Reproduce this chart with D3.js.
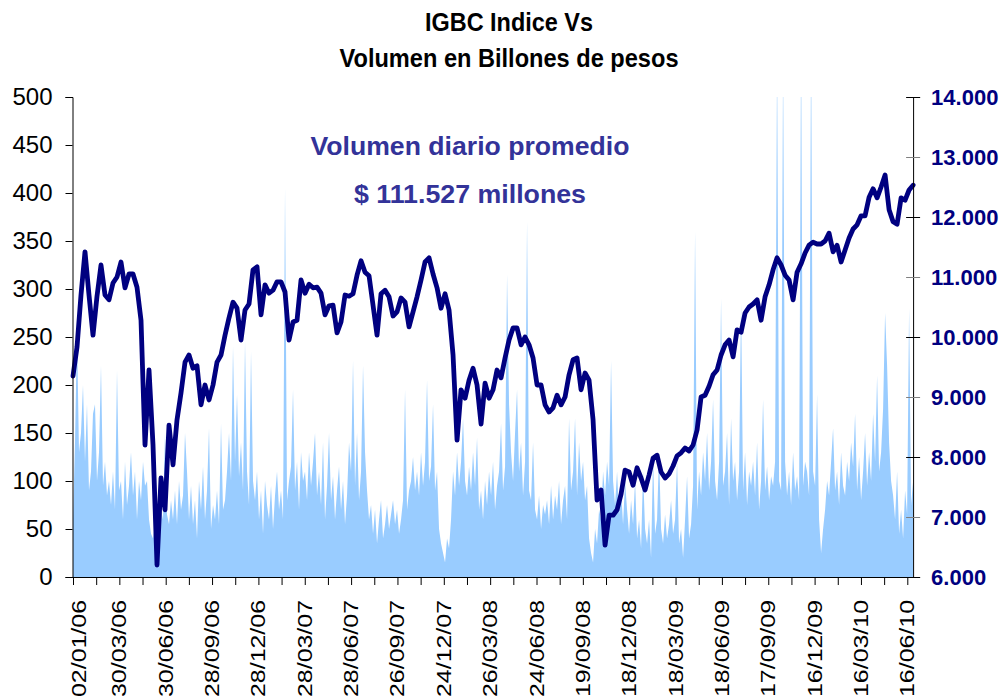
<!DOCTYPE html>
<html>
<head>
<meta charset="utf-8">
<script src="https://cdn.jsdelivr.net/npm/d3@7"></script>
<style>
	body { margin: 0; background: #fff; }
	svg { display: block; font-family: 'Liberation Sans', Arial, sans-serif; }
</style>
</head>
<body>
<svg></svg>
<script>
const w = 1001;
const h = 700;

// fechas del eje x (una etiqueta cada dos marcas)
const fechas = ['02/01/06', '30/03/06', '30/06/06', '28/09/06', '28/12/06', '28/03/07', '28/06/07', '26/09/07', '24/12/07', '26/03/08', '24/06/08', '19/09/08', '18/12/08', '18/03/09', '18/06/09', '17/09/09', '16/12/09', '16/03/10', '16/06/10'];
const ticksIzq = [0, 50, 100, 150, 200, 250, 300, 350, 400, 450, 500];
const ticksDer = [6000, 7000, 8000, 9000, 10000, 11000, 12000, 13000, 14000];

// IGBC, lectura semanal
const igbc = [
	9350, 9830, 10700, 11420, 10700, 10030, 10680, 11200, 10700, 10620,
	10900, 11000, 11250, 10820, 11050, 11050, 10830, 10280, 8200, 9450,
	8200, 6200, 7650, 7120, 8530, 7870, 8620, 9070, 9580, 9700,
	9480, 9520, 8870, 9200, 8950, 9200, 9580, 9700, 10030, 10320,
	10580, 10480, 9950, 10450, 10550, 11120, 11170, 10370, 10870, 10730,
	10780, 10920, 10920, 10750, 9950, 10250, 10280, 10950, 10730, 10880,
	10820, 10830, 10730, 10370, 10520, 10530, 10070, 10250, 10700, 10680,
	10720, 11030, 11270, 11080, 11020, 10530, 10030, 10720, 10780, 10670,
	10350, 10420, 10650, 10580, 10170, 10420, 10670, 10950, 11250, 11320,
	11050, 10820, 10480, 10720, 10450, 9700, 8280, 9120, 8980, 9280,
	9480, 9200, 8550, 9230, 8980, 9120, 9450, 9320, 9650, 9950,
	10150, 10150, 9870, 10000, 9870, 9650, 9200, 9200, 8870, 8750,
	8820, 9030, 8870, 9000, 9370, 9620, 9650, 9120, 9400, 9280,
	8620, 7280, 7450, 6530, 7030, 7030, 7120, 7380, 7780, 7750,
	7530, 7820, 7650, 7450, 7700, 7980, 8030, 7750, 7650, 7720,
	7850, 8020, 8070, 8150, 8100, 8200, 8450, 9000, 9030, 9180,
	9370, 9450, 9700, 9870, 9950, 9670, 10120, 10080, 10400, 10500,
	10550, 10620, 10280, 10670, 10870, 11120, 11320, 11200, 11030, 10950,
	10620, 11080, 11220, 11400, 11530, 11580, 11550, 11550, 11600, 11730,
	11420, 11530, 11250, 11450, 11650, 11800, 11870, 12020, 12020, 12330,
	12470, 12320, 12500, 12700, 12120, 11920, 11880, 12320, 12280, 12450,
	12530
];

// volumen en miles de millones, lectura aproximada
const volumen = [
	60, 140, 255, 130, 150, 200, 120, 180, 90, 110,
	170, 180, 100, 130, 220, 95, 120, 85, 100, 75,
	110, 70, 215, 90, 100, 60, 120, 75, 95, 130,
	85, 110, 60, 100, 80, 120, 95, 100, 60, 45,
	40, 55, 30, 50, 70, 60, 150, 65, 55, 80,
	60, 90, 55, 100, 70, 85, 150, 110, 60, 95,
	55, 80, 40, 100, 70, 115, 60, 90, 155, 50,
	75, 60, 90, 55, 160, 70, 80, 110, 150, 100,
	240, 120, 190, 105, 140, 90, 245, 110, 75, 235,
	100, 80, 110, 60, 90, 45, 100, 75, 60, 95,
	50, 85, 110, 70, 90, 60, 405, 80, 100, 115,
	195, 90, 120, 70, 130, 100, 110, 80, 130, 95,
	120, 150, 85, 110, 75, 140, 60, 95, 150, 80,
	105, 60, 90, 115, 70, 100, 55, 85, 140, 110,
	225, 95, 150, 80, 110, 220, 130, 90, 60, 75,
	45, 70, 35, 60, 80, 40, 55, 75, 50, 65,
	80, 55, 70, 45, 60, 80, 195, 70, 90, 100,
	125, 90, 110, 85, 130, 95, 120, 205, 100, 115,
	180, 90, 110, 50, 35, 25, 15, 40, 30, 60,
	110, 85, 130, 95, 120, 165, 100, 85, 115, 90,
	130, 95, 145, 70, 90, 60, 100, 75, 110, 85,
	120, 70, 95, 110, 160, 90, 115, 315, 180, 130,
	100, 150, 195, 110, 140, 85, 120, 370, 90, 80,
	140, 70, 60, 85, 50, 75, 65, 80, 55, 95,
	60, 85, 70, 100, 55, 80, 95, 60, 165, 90,
	110, 165, 85, 140, 100, 120, 80, 95, 40, 25,
	15, 50, 35, 70, 60, 110, 85, 120, 95, 225,
	100, 75, 110, 65, 90, 55, 100, 70, 45, 80,
	55, 100, 40, 60, 30, 110, 50, 35, 60, 20,
	125, 45, 60, 130, 50, 35, 65, 40, 55, 80,
	45, 60, 120, 35, 50, 20, 60, 105, 40, 55,
	95, 360, 70, 110, 85, 130, 100, 150, 90, 120,
	185, 100, 80, 120, 290, 95, 110, 150, 75, 165,
	100, 120, 80, 110, 285, 90, 130, 75, 110, 95,
	120, 85, 140, 70, 100, 185, 90, 115, 80, 105,
	95, 120, 545, 100, 90, 540, 120, 85, 110, 75,
	130, 90, 105, 80, 560, 95, 120, 110, 85, 560,
	110, 95, 190, 60, 25, 50, 70, 100, 85, 120,
	155, 90, 110, 75, 130, 95, 85, 120, 100, 140,
	115, 170, 90, 125, 80, 110, 150, 95, 130, 100,
	170, 120, 210, 110, 130, 175, 275, 220, 140, 100,
	85, 60, 110, 45, 70, 40, 90, 65, 280, 75,
	100
];

const nTicks = 36; // marcas del eje x (dos por etiqueta)
const fin = 36.25; // el periodo termina un poco despues de la ultima marca

const canvas = d3.select('svg').attr('width', w).attr('height', h);

const xScale = d3.scaleLinear().domain([0, nTicks]).range([73, 907.3]);
const yIzq = d3.scaleLinear().domain([0, 500]).range([577, 97]);
const yDer = d3.scaleLinear().domain([6000, 14000]).range([577, 97]);

const posX = (i, n) => xScale((i / (n - 1)) * fin);

canvas
	.append('clipPath')
	.attr('id', 'plot')
	.append('rect')
	.attr('x', xScale(0))
	.attr('y', yIzq(500))
	.attr('width', xScale(fin) - xScale(0))
	.attr('height', yIzq(0) - yIzq(500));

// area de volumen
const area = d3
	.area()
	.x((d, i) => posX(i, volumen.length))
	.y0(yIzq(0))
	.y1((d) => yIzq(d));

canvas
	.append('path')
	.datum(volumen)
	.attr('clip-path', 'url(#plot)')
	.attr('fill', '#99ccff')
	.attr('d', area);

// linea del indice
const linea = d3
	.line()
	.x((d, i) => posX(i, igbc.length))
	.y((d) => yDer(d));

canvas
	.append('path')
	.datum(igbc)
	.attr('fill', 'none')
	.attr('stroke', '#000080')
	.attr('stroke-width', 4.8)
	.attr('stroke-linejoin', 'round')
	.attr('stroke-linecap', 'round')
	.attr('d', linea);

// eje izquierdo
const yAxisIzq = d3.axisLeft(yIzq).tickValues(ticksIzq).tickSize(7).tickPadding(13);
canvas
	.append('g')
	.attr('transform', `translate(${xScale(0) - 0.5},0)`)
	.call(yAxisIzq)
	.call((g) => g.selectAll('text').attr('font-size', 24).attr('fill', '#000').attr('font-family', 'Liberation Sans, Arial'))
	.call((g) => g.selectAll('path, line').attr('stroke', '#000'));

// eje derecho
const yAxisDer = d3.axisRight(yDer).tickValues(ticksDer).tickSize(7).tickPadding(11).tickFormat((d) => d3.format(',')(d).replace(',', '.'));
canvas
	.append('g')
	.attr('transform', `translate(${xScale(fin)},0)`)
	.call(yAxisDer)
	.call((g) => g.select('.domain').attr('stroke', '#000'))
	.call((g) =>
		g
			.selectAll('.tick line')
			.attr('x1', -7)
			.attr('stroke', (d) => (d % 2000 === 0 ? '#000' : '#808080'))
	)
	.call((g) =>
		g
			.selectAll('text')
			.attr('font-size', 22)
			.attr('font-weight', 'bold')
			.attr('fill', '#000080')
			.attr('font-family', 'Liberation Sans, Arial')
	);

// eje inferior
const xAxis = d3.axisBottom(xScale).tickValues(d3.range(nTicks + 1)).tickSize(8).tickFormat('');
canvas
	.append('g')
	.attr('transform', `translate(0,${yIzq(0)})`)
	.call(xAxis)
	.call((g) => g.select('.domain').attr('d', `M${xScale(0) - 0.5},0.5H${xScale(fin)}`).attr('stroke', '#000'))
	.call((g) => g.selectAll('line').attr('stroke', '#000'));

canvas
	.append('g')
	.selectAll('text')
	.data(fechas)
	.enter()
	.append('text')
	.attr('transform', (d, i) => `translate(${xScale(i * 2) + (i === 0 ? 6 : 0)},600) rotate(-90)`)
	.attr('text-anchor', 'end')
	.attr('dy', '0.35em')
	.attr('font-size', 20)
	.attr('textLength', 97)
	.attr('lengthAdjust', 'spacingAndGlyphs')
	.text((d) => d);

// titulo
const titulo = canvas.append('g').attr('font-weight', 'bold').attr('font-size', 26).attr('text-anchor', 'middle');
titulo.append('text').attr('x', 509).attr('y', 31).attr('textLength', 168).attr('lengthAdjust', 'spacingAndGlyphs').text('IGBC Indice Vs');
titulo.append('text').attr('x', 509).attr('y', 67).attr('textLength', 339).attr('lengthAdjust', 'spacingAndGlyphs').text('Volumen en Billones de pesos');

// nota del volumen promedio
const nota = canvas.append('g').attr('font-weight', 'bold').attr('font-size', 26).attr('fill', '#333399').attr('text-anchor', 'middle');
nota.append('text').attr('x', 470).attr('y', 155).attr('textLength', 319).attr('lengthAdjust', 'spacingAndGlyphs').text('Volumen diario promedio');
nota.append('text').attr('x', 470).attr('y', 203).attr('textLength', 232).attr('lengthAdjust', 'spacingAndGlyphs').text('$ 111.527 millones');
</script>
</body>
</html>
